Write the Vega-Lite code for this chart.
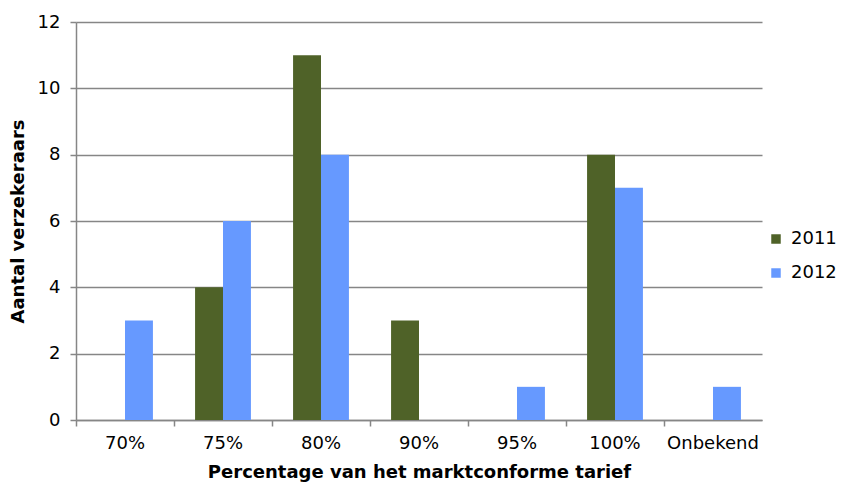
{
  "$schema": "https://vega.github.io/schema/vega-lite/v6.json",
  "autosize": {"type": "none"},
  "padding": {"left": 76, "top": 22, "right": 102, "bottom": 65},
  "width": 686,
  "height": 398,
  "background": "white",
  "data": {
    "values": [
      {"cat": "70%", "jaar": "2011", "n": 0},
      {"cat": "70%", "jaar": "2012", "n": 3},
      {"cat": "75%", "jaar": "2011", "n": 4},
      {"cat": "75%", "jaar": "2012", "n": 6},
      {"cat": "80%", "jaar": "2011", "n": 11},
      {"cat": "80%", "jaar": "2012", "n": 8},
      {"cat": "90%", "jaar": "2011", "n": 3},
      {"cat": "90%", "jaar": "2012", "n": 0},
      {"cat": "95%", "jaar": "2011", "n": 0},
      {"cat": "95%", "jaar": "2012", "n": 1},
      {"cat": "100%", "jaar": "2011", "n": 8},
      {"cat": "100%", "jaar": "2012", "n": 7},
      {"cat": "Onbekend", "jaar": "2011", "n": 0},
      {"cat": "Onbekend", "jaar": "2012", "n": 1}
    ]
  },
  "config": {
    "font": "DejaVu Sans",
    "view": {"stroke": null},
    "axis": {
      "labelFont": "DejaVu Sans",
      "titleFont": "DejaVu Sans",
      "labelFontSize": 18,
      "titleFontSize": 18,
      "labelColor": "#000000",
      "titleColor": "#000000",
      "domainColor": "#868686",
      "tickColor": "#868686",
      "gridColor": "#868686",
      "domainWidth": 1.5,
      "tickWidth": 1.5,
      "gridWidth": 1.3,
      "tickSize": 6
    }
  },
  "mark": {"type": "bar"},
  "encoding": {
    "x": {
      "field": "cat",
      "type": "nominal",
      "sort": ["70%", "75%", "80%", "90%", "95%", "100%", "Onbekend"],
      "scale": {"paddingInner": 0.43, "paddingOuter": 0.215},
      "axis": {
        "title": "Percentage van het marktconforme tarief",
        "titleFontWeight": "bold",
        "titlePadding": 11,
        "labelAngle": 0,
        "labelPadding": 8,
        "bandPosition": -0.377,
        "ticks": true,
        "grid": false
      }
    },
    "xOffset": {"field": "jaar", "type": "nominal"},
    "y": {
      "field": "n",
      "type": "quantitative",
      "scale": {"domain": [0, 12]},
      "axis": {
        "title": "Aantal verzekeraars",
        "titleFontWeight": "bold",
        "titlePadding": 10,
        "values": [0, 2, 4, 6, 8, 10, 12],
        "labelPadding": 10,
        "grid": true
      }
    },
    "color": {
      "field": "jaar",
      "type": "nominal",
      "scale": {"domain": ["2011", "2012"], "range": ["#4F6228", "#6699FF"]},
      "legend": {
        "title": null,
        "orient": "none",
        "legendX": 691,
        "legendY": 208,
        "symbolType": "square",
        "symbolSize": 90,
        "symbolStrokeWidth": 0,
        "labelFontSize": 18,
        "labelFont": "DejaVu Sans",
        "labelColor": "#000000",
        "rowPadding": 16,
        "labelOffset": 6
      }
    }
  }
}
